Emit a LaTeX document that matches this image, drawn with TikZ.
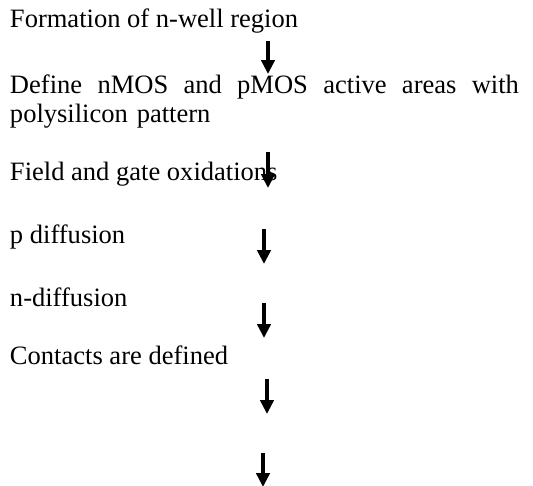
\documentclass[tikz,border=0pt]{standalone}
\usepackage{fontspec}
\setmainfont{Liberation Serif}
\usetikzlibrary{arrows.meta}
\begin{document}
\begin{tikzpicture}[x=0.75pt,y=-0.75pt,
  stepnode/.style={anchor=base west, inner sep=0pt, outer sep=0pt, font=\fontsize{19.9}{21.75}\selectfont},
  flowarrow/.style={line width=2.6pt, -{Triangle[length=10.5pt,width=10pt]}}]
\useasboundingbox (0,0) rectangle (533,486);
\node[stepnode] (s1) at (10,27) {Formation of n-well region};
\node[stepnode, text width=381.75pt, align=left] (s2) at (10,93)
  {\hbox to 381.75pt{Define\hfill nMOS\hfill and\hfill pMOS\hfill active\hfill areas\hfill with}\\polysilicon pattern};
\node[stepnode] (s3) at (10,180) {Field and gate oxidations};
\node[stepnode] (s4) at (10,243) {p diffusion};
\node[stepnode] (s5) at (10,306) {n-diffusion};
\node[stepnode] (s6) at (10,364) {Contacts are defined};
\coordinate (a1s) at (268,41);  \coordinate (a1e) at (268,74);
\coordinate (a2s) at (268,152); \coordinate (a2e) at (268,188);
\coordinate (a3s) at (264,229); \coordinate (a3e) at (264,264);
\coordinate (a4s) at (264,303); \coordinate (a4e) at (264,338);
\coordinate (a5s) at (267,379); \coordinate (a5e) at (267,414);
\coordinate (a6s) at (263,453); \coordinate (a6e) at (263,487);
\draw[flowarrow] (a1s) -- (a1e);
\draw[flowarrow] (a2s) -- (a2e);
\draw[flowarrow] (a3s) -- (a3e);
\draw[flowarrow] (a4s) -- (a4e);
\draw[flowarrow] (a5s) -- (a5e);
\draw[flowarrow] (a6s) -- (a6e);
\end{tikzpicture}
\end{document}
